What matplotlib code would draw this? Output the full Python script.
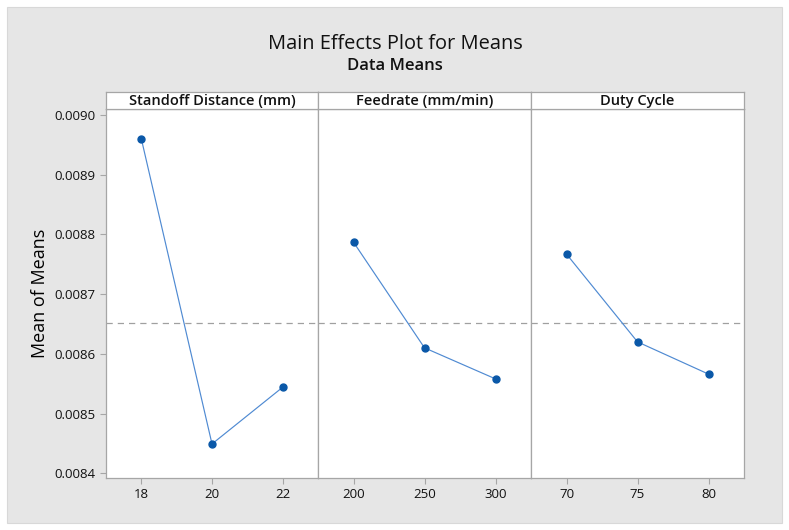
import matplotlib.pyplot as plt
from matplotlib.patches import Rectangle

plt.rcParams['font.family'] = ['Open Sans', 'DejaVu Sans']

# factor names, levels and the means
factors = ['Standoff Distance (mm)', 'Feedrate (mm/min)', 'Duty Cycle']
levels = [['18', '20', '22'], ['200', '250', '300'], ['70', '75', '80']]
means = [
    [0.008960, 0.008449, 0.008544],
    [0.008787, 0.008610, 0.008558],
    [0.008767, 0.008620, 0.008566],
]
grand_mean = 0.008651
yticks = [0.0084, 0.0085, 0.0086, 0.0087, 0.0088, 0.0089, 0.0090]

W, H = 789, 530
fig = plt.figure(figsize=(W / 100, H / 100), dpi=100)
fig.patch.set_facecolor('white')


def box(x0, y0, x1, y1):
    # pixel box (top-left origin) -> figure fraction
    return [x0 / W, 1 - y1 / H, (x1 - x0) / W, (y1 - y0) / H]


fig.patches.append(Rectangle((7 / W, 1 - 523 / H), 775 / W, 516 / H,
                             transform=fig.transFigure, facecolor='#e6e6e6',
                             edgecolor='#d8d8d8', lw=0.8, zorder=-5))

fig.text(395 / W, 1 - 44 / H, 'Main Effects Plot for Means', ha='center',
         va='center', fontsize=14.4, color='#111111')
fig.text(395 / W, 1 - 66 / H, 'Data Means', ha='center', va='center',
         fontsize=12, fontweight='semibold', color='#111111')

edges = [106, 318, 531, 744]
spine_c = '#a6a6a6'
for i in range(3):
    ax = fig.add_axes(box(edges[i], 109, edges[i + 1], 478))
    ax.set_facecolor('white')
    xs = range(len(levels[i]))
    ax.axhline(grand_mean, color='#a0a0a0', lw=0.9, ls=(0, (5, 4)), zorder=1)
    ax.plot(xs, means[i], color='#4f8ad2', lw=0.85, zorder=2)
    ax.plot(xs, means[i], 'o', color='#0a58a8', ms=5, zorder=3)
    ax.set_xlim(-0.5, 2.5)
    ax.set_ylim(0.008392, 0.009010)
    ax.set_xticks(list(xs))
    ax.set_xticklabels(levels[i], fontsize=9.5)
    ax.set_yticks(yticks)
    if i == 0:
        ax.set_yticklabels(['%.4f' % v for v in yticks], fontsize=9.5)
        ax.set_ylabel('Mean of Means', fontsize=13, labelpad=4)
    else:
        ax.tick_params(axis='y', left=False, labelleft=False)
    ax.tick_params(colors=spine_c, labelcolor='#111111', length=4, width=0.8)
    for s in ax.spines.values():
        s.set_color(spine_c)
        s.set_linewidth(0.9)

    # strip header
    st = fig.add_axes(box(edges[i], 92, edges[i + 1], 109))
    st.set_facecolor('white')
    st.set_xticks([])
    st.set_yticks([])
    for s in st.spines.values():
        s.set_color(spine_c)
        s.set_linewidth(0.9)
    st.text(0.5, 0.45, factors[i], ha='center', va='center', fontsize=10.5,
            fontweight='semibold', color='#111111', transform=st.transAxes)

fig.savefig('out.png', dpi=100)
